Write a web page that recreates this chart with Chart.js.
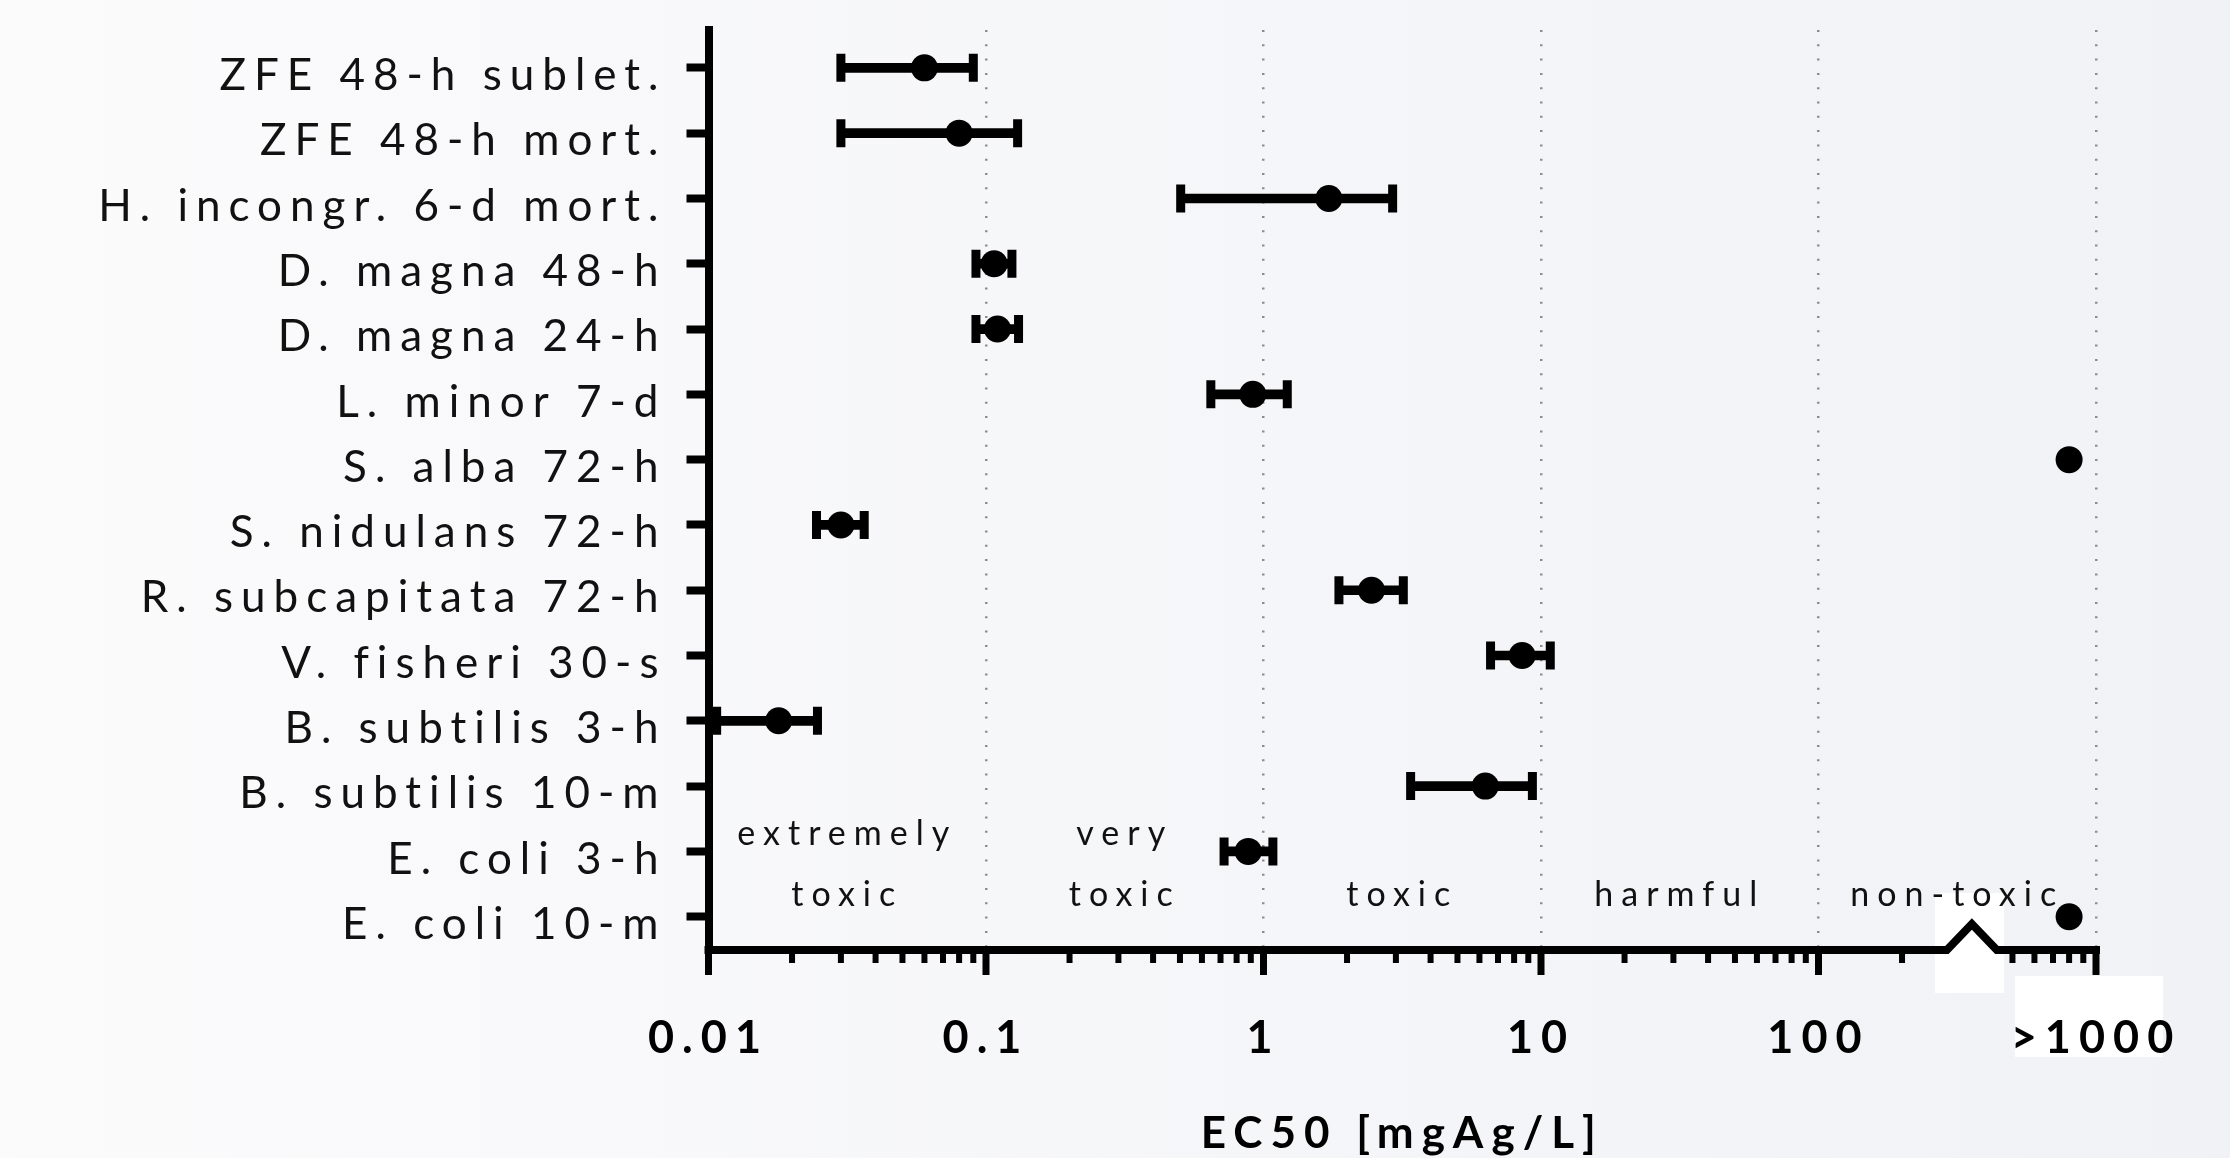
<!DOCTYPE html>
<html>
<head>
<meta charset="utf-8">
<script src="https://cdn.jsdelivr.net/npm/chart.js@4.4.1/dist/chart.umd.min.js"></script>
<style>
  html, body { margin: 0; padding: 0; background: #f7f7f9; }
  canvas { display: block; }
</style>
</head>
<body>
<canvas id="ec50" width="2230" height="1158"></canvas>
<script>
// tests, top to bottom
var tests = ['ZFE 48-h sublet.', 'ZFE 48-h mort.', 'H. incongr. 6-d mort.', 'D. magna 48-h',
  'D. magna 24-h', 'L. minor 7-d', 'S. alba 72-h', 'S. nidulans 72-h', 'R. subcapitata 72-h',
  'V. fisheri 30-s', 'B. subtilis 3-h', 'B. subtilis 10-m', 'E. coli 3-h', 'E. coli 10-m'];
// EC50 in mgAg/L and its confidence limits (null = none, >1000 plotted at 800)
var ec50  = [0.060, 0.080, 1.72, 0.107, 0.110, 0.915, 800, 0.030, 2.45, 8.55, 0.0179, 6.30, 0.881, 800];
var lower = [0.030, 0.030, 0.503, 0.092, 0.092, 0.646, null, 0.0245, 1.87, 6.58, 0.0107, 3.39, 0.721, null];
var upper = [0.090, 0.130, 2.92, 0.124, 0.131, 1.218, null, 0.0364, 3.19, 10.8, 0.0247, 9.31, 1.081, null];

var majorTicks = [0.01, 0.1, 1, 10, 100, 1000];
var majorLabels = ['0.01', '0.1', '1', '10', '100', '>1000'];
var minorTicks = [0.02, 0.03, 0.04, 0.05, 0.06, 0.07, 0.08, 0.09,
  0.2, 0.3, 0.4, 0.5, 0.6, 0.7, 0.8, 0.9,
  2, 3, 4, 5, 6, 7, 8, 9,
  20, 30, 40, 50, 60, 70, 80, 90,
  200, 500, 600, 700, 800, 900];
var breakAt = 357;

// toxicity classes between the decades
var classTop = ['extremely', 'very', '', '', ''];
var classBottom = ['toxic', 'toxic', 'toxic', 'harmful', 'non-toxic'];

var SPACING = '8px';

var points = [], caps = [], whiskers = [];
for (var i = 0; i < tests.length; i++) {
  points.push({x: ec50[i], y: i});
  if (lower[i] !== null) {
    caps.push({x: lower[i], y: i});
    caps.push({x: upper[i], y: i});
    whiskers.push({x: [lower[i], upper[i]], y: i});
  }
}

var decor = {
  id: 'decor',
  beforeLayout: function(chart) {
    chart.ctx.letterSpacing = SPACING;
  },
  beforeDraw: function(chart) {
    var ctx = chart.ctx, x = chart.scales.x, a = chart.chartArea;
    ctx.letterSpacing = SPACING;
    ctx.save();
    var g = ctx.createLinearGradient(0, 0, chart.width, 0);
    g.addColorStop(0, '#fbfbfc');
    g.addColorStop(1, '#f1f2f6');
    ctx.fillStyle = g;
    ctx.fillRect(0, 0, chart.width, chart.height);
    // white patches left over around the break and the last label
    var bp = x.getPixelForValue(breakAt), ep = x.getPixelForValue(1000);
    ctx.fillStyle = '#ffffff';
    ctx.fillRect(bp - 37, a.bottom - 57, 69, 100);
    ctx.fillRect(ep - 81, a.bottom + 26, 148, 81);
    ctx.restore();
  },
  afterDraw: function(chart) {
    var ctx = chart.ctx, x = chart.scales.x, y = chart.scales.y, a = chart.chartArea;
    var axisY = a.bottom;
    var bp = x.getPixelForValue(breakAt);
    ctx.save();
    ctx.strokeStyle = '#000';
    ctx.lineWidth = 8;
    ctx.beginPath();
    ctx.moveTo(a.left - 4, axisY);
    ctx.lineTo(bp - 25, axisY);
    ctx.lineTo(bp, axisY - 26);
    ctx.lineTo(bp + 25, axisY);
    ctx.lineTo(a.right + 4, axisY);
    ctx.stroke();

    ctx.lineWidth = 7;
    majorTicks.forEach(function(v) {
      var px = x.getPixelForValue(v);
      ctx.beginPath(); ctx.moveTo(px, axisY); ctx.lineTo(px, axisY + 25); ctx.stroke();
    });
    ctx.lineWidth = 6;
    minorTicks.forEach(function(v) {
      var px = x.getPixelForValue(v);
      ctx.beginPath(); ctx.moveTo(px, axisY); ctx.lineTo(px, axisY + 13); ctx.stroke();
    });

    // class names
    ctx.fillStyle = '#111';
    ctx.font = '34px Lato';
    ctx.textAlign = 'center';
    ctx.textBaseline = 'middle';
    for (var k = 0; k < classBottom.length; k++) {
      var cx = x.getPixelForValue(Math.sqrt(majorTicks[k] * majorTicks[k + 1]));
      if (classTop[k]) ctx.fillText(classTop[k], cx, y.getPixelForValue(11.73));
      ctx.fillText(classBottom[k], cx, y.getPixelForValue(12.67));
    }
    ctx.restore();
  }
};

var chart = new Chart(document.getElementById('ec50').getContext('2d'), {
  type: 'scatter',
  data: {
    datasets: [
      {
        label: 'EC50',
        data: points,
        pointRadius: 13.5,
        pointHoverRadius: 13.5,
        backgroundColor: '#000',
        borderWidth: 0
      },
      {
        label: 'caps',
        data: caps,
        pointStyle: 'line',
        rotation: 90,
        pointRadius: 14,
        pointHoverRadius: 14,
        borderColor: '#000',
        borderWidth: 9
      },
      {
        type: 'bar',
        label: 'range',
        indexAxis: 'y',
        data: whiskers,
        barThickness: 9,
        backgroundColor: '#000',
        borderWidth: 0
      }
    ]
  },
  options: {
    responsive: false,
    animation: false,
    layout: { padding: { top: 30, right: 134, left: 0, bottom: 0 } },
    plugins: {
      legend: { display: false },
      tooltip: { enabled: false }
    },
    scales: {
      x: {
        type: 'logarithmic',
        position: 'bottom',
        min: 0.01,
        max: 1000,
        offset: false,
        afterBuildTicks: function(s) {
          s.ticks = majorTicks.map(function(v) { return {value: v}; });
        },
        afterFit: function(s) {
          s.height = 208;
          s.paddingLeft = 0;
          s.paddingRight = 0;
        },
        ticks: {
          autoSkip: false,
          maxRotation: 0,
          padding: 66,
          color: '#000',
          font: { family: 'Lato', size: 45, weight: 'bold', lineHeight: 1 },
          callback: function(v) { return majorLabels[majorTicks.indexOf(v)]; }
        },
        grid: {
          offset: false,
          drawTicks: false,
          lineWidth: 2.5,
          color: function(c) {
            return c.tick && c.tick.value > 0.011 ? '#8c8c8c' : 'rgba(0,0,0,0)';
          }
        },
        border: { display: false, dash: [2, 12.3] },
        title: {
          display: true,
          text: 'EC50 [mgAg/L]',
          color: '#000',
          font: { family: 'Lato', size: 44, weight: 'bold', lineHeight: 1 },
          padding: { top: 0, bottom: 2 }
        }
      },
      y: {
        type: 'linear',
        min: -0.58,
        max: 13.51,
        reverse: true,
        offset: false,
        afterBuildTicks: function(s) {
          s.ticks = tests.map(function(t, i) { return {value: i}; });
        },
        afterFit: function(s) {
          s.width = 708.5;
          s.paddingTop = 0;
          s.paddingBottom = 0;
        },
        ticks: {
          padding: 20,
          labelOffset: 8,
          color: '#111',
          font: { family: 'Lato', size: 44, lineHeight: 1 },
          callback: function(v) { return tests[v]; }
        },
        grid: {
          offset: false,
          drawOnChartArea: false,
          drawTicks: true,
          tickLength: 22,
          tickWidth: 8,
          tickColor: '#000'
        },
        border: { display: true, color: '#000', width: 8 }
      }
    }
  },
  plugins: [decor]
});
</script>
</body>
</html>
